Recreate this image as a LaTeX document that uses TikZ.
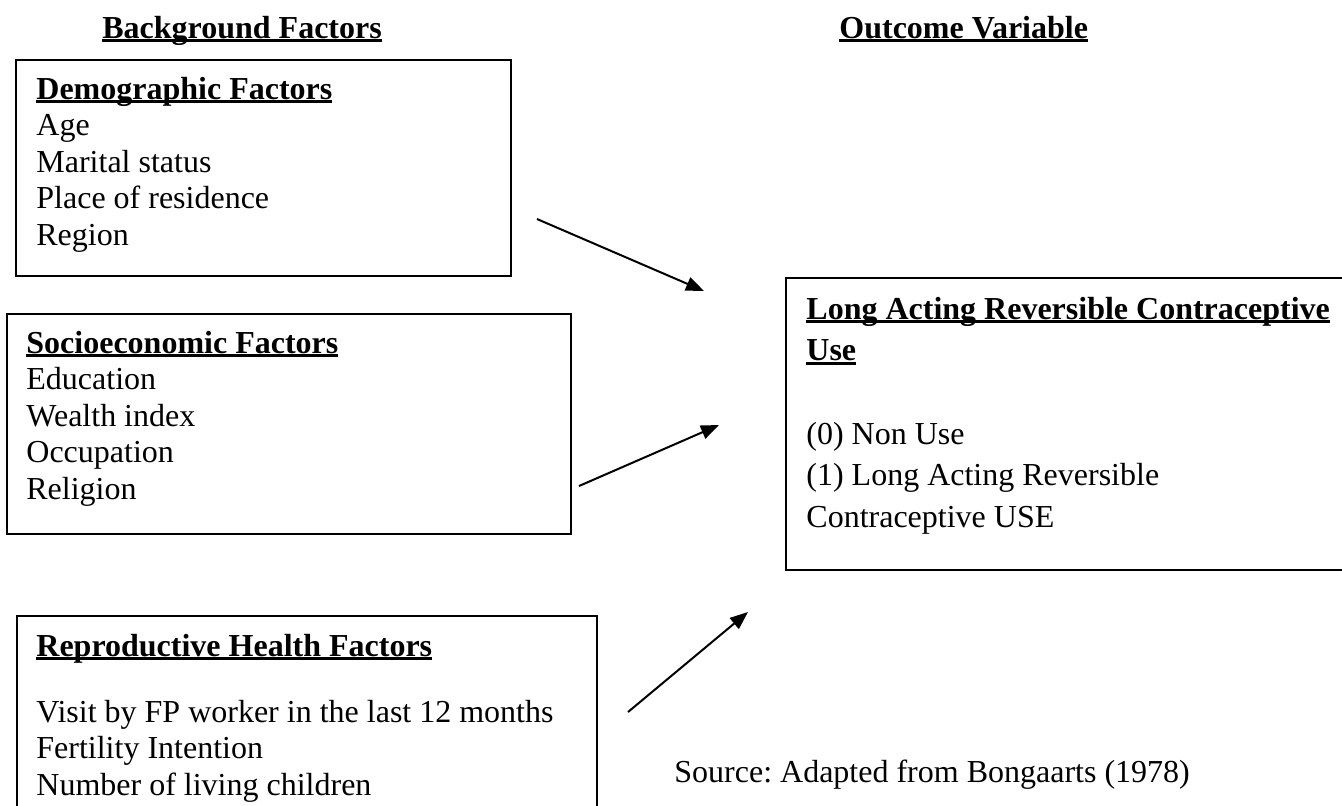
\documentclass[tikz,border=0pt]{standalone}
\usepackage{fontspec}
\setmainfont{Liberation Serif}
\usetikzlibrary{arrows.meta}
\frenchspacing
\newcommand{\undl}[1]{\leavevmode\setbox0\hbox{#1}\rlap{\rule[-2.1pt]{\wd0}{1.4pt}}\box0}
\tikzset{
  panel/.style={draw, line width=1.1pt, rectangle, anchor=north west, inner sep=0pt},
  items/.style={anchor=base west, inner sep=0pt, align=flush left, text width=#1},
  link/.style={-{Triangle[length=9pt,width=7pt]}, line width=1pt},
}
\begin{document}
\begin{tikzpicture}[x=0.5pt,y=-0.5pt,font=\fontsize{16}{18.25}\selectfont]
  \path[use as bounding box] (0,0) rectangle (1342,805);
  \clip (0,0) rectangle (1342,805);
  % headings
  \node[anchor=base west, inner sep=0pt] (bgh) at (102,38) {\undl{\textbf{Background Factors}}};
  \node[anchor=base west, inner sep=0pt] (outh) at (839,38) {\undl{\textbf{Outcome Variable}}};
  % boxes
  \node[panel, minimum width=247.5pt, minimum height=108pt] (demobox) at (15,59) {};
  \node[panel, minimum width=282pt, minimum height=110pt] (sociobox) at (6,313) {};
  \node[panel, minimum width=290pt, minimum height=112pt] (reprobox) at (16,615) {};
  \node[panel, minimum width=300pt, minimum height=146pt] (outbox) at (785,277) {};
  % box texts
  \node[items=240pt] (demo) at (36,99) {\undl{\textbf{Demographic Factors}}\\
    Age\\ Marital status\\ Place of residence\\ Region};
  \node[items=270pt] (socio) at (26,353) {\undl{\textbf{Socioeconomic Factors}}\\
    Education\\ Wealth index\\ Occupation\\ Religion};
  \node[items=280pt] (repro) at (36,656) {\undl{\textbf{Reproductive Health Factors}}\\[14.75pt]
    Visit by FP worker in the last 12 months\\ Fertility Intention\\ Number of living children};
  \node[items=285pt, font=\fontsize{16}{20.75}\selectfont] (out) at (806,319)
    {\undl{\textbf{Long Acting Reversible Contraceptive}}\\ \undl{\textbf{Use}}\\[21pt]
    (0) Non Use\\ (1) Long Acting Reversible\\ Contraceptive USE};
  \node[anchor=base west, inner sep=0pt] (src) at (674,782) {Source: Adapted from Bongaarts (1978)};
  % arrows
  \coordinate (d1) at (537,219);
  \coordinate (d2) at (704,291);
  \coordinate (s1) at (579,486);
  \coordinate (s2) at (719,425);
  \coordinate (r1) at (628,712);
  \coordinate (r2) at (748,612);
  \draw[link] (d1) -- (d2);
  \draw[link] (s1) -- (s2);
  \draw[link] (r1) -- (r2);
\end{tikzpicture}
\end{document}
